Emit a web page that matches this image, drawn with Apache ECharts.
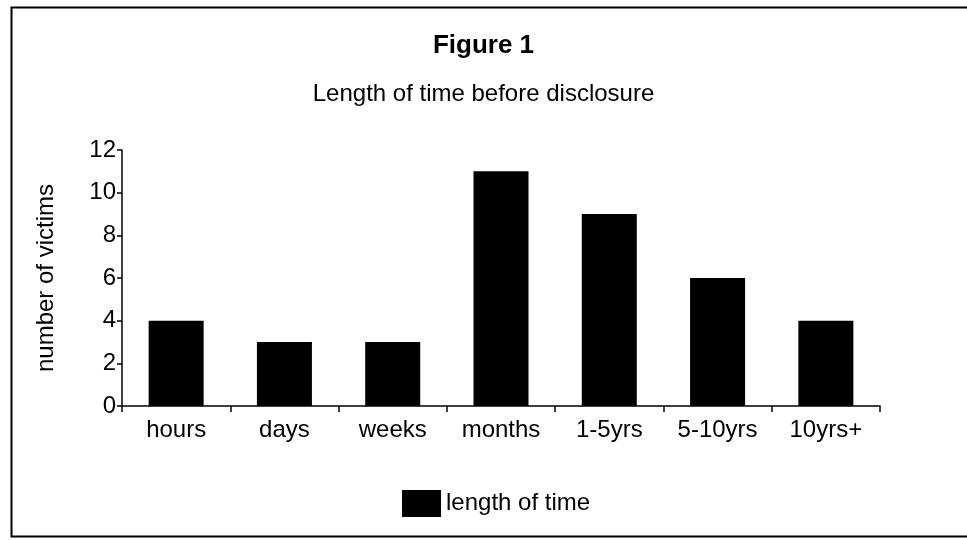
<!DOCTYPE html>
<html>

<head>
    <meta charset="utf-8">
    <title>Figure 1</title>
    <script src="https://cdn.jsdelivr.net/npm/echarts@6/dist/echarts.min.js"></script>
    <style>
        * {
            padding: 0px;
            margin: 0px;
        }
    </style>
</head>

<body>
    <div id="main" style="width: 967px;height:540px;"></div>
    <script type="text/javascript">
        // data
        var categories = ['hours', 'days', 'weeks', 'months', '1-5yrs', '5-10yrs', '10yrs+'];
        var victims = [4, 3, 3, 11, 9, 6, 4];
        var yTicks = [0, 2, 4, 6, 8, 10, 12];

        var font = 'Liberation Sans, Arial, sans-serif';
        var myChart = echarts.init(document.getElementById('main'));

        var option = {
            backgroundColor: '#fff',
            animation: false,
            title: [{
                text: 'Figure 1',
                left: 'center',
                top: 28,
                textStyle: { fontFamily: font, fontSize: 26, fontWeight: 'bold', color: '#000' }
            }, {
                text: 'Length of time before disclosure',
                left: 'center',
                top: 77,
                textStyle: { fontFamily: font, fontSize: 24, fontWeight: 'normal', color: '#000' }
            }],
            legend: {
                data: ['length of time'],
                left: 397,
                top: 485,
                itemWidth: 39,
                itemHeight: 27,
                icon: 'rect',
                itemGap: 8,
                textStyle: { fontFamily: font, fontSize: 24, color: '#000' }
            },
            grid: {
                left: 122,
                right: 87,
                top: 150,
                bottom: 134
            },
            xAxis: {
                type: 'category',
                data: categories,
                axisLine: { lineStyle: { color: '#000', width: 1.5 } },
                axisTick: { show: true, length: 6, lineStyle: { color: '#000', width: 1.5 } },
                axisLabel: { fontFamily: font, fontSize: 24, color: '#000', margin: 12 }
            },
            yAxis: {
                type: 'value',
                min: yTicks[0],
                max: yTicks[yTicks.length - 1],
                interval: 2,
                name: 'number of victims',
                nameLocation: 'middle',
                nameGap: 64,
                nameTextStyle: { fontFamily: font, fontSize: 24, color: '#000' },
                axisLine: { show: true, lineStyle: { color: '#000', width: 1.5 } },
                axisTick: { show: true, length: 5, lineStyle: { color: '#000', width: 1.5 } },
                axisLabel: { fontFamily: font, fontSize: 24, color: '#000', margin: 6 },
                splitLine: { show: false }
            },
            graphic: [{
                type: 'rect',
                left: 9,
                top: 5,
                shape: { width: 980, height: 529 },
                style: { fill: 'none', stroke: '#000', lineWidth: 2 },
                silent: true
            }],
            series: [{
                name: 'length of time',
                type: 'bar',
                data: victims,
                barWidth: 55,
                itemStyle: { color: '#000' }
            }]
        };
        myChart.setOption(option);
    </script>
</body>

</html>
